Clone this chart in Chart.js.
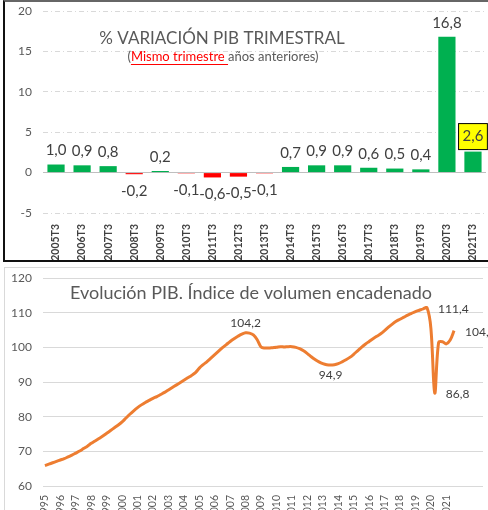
<!DOCTYPE html>
<html lang="es">
<head>
<meta charset="utf-8">
<title>PIB</title>
<script src="https://cdn.jsdelivr.net/npm/chart.js@4.4.1/dist/chart.umd.min.js"></script>
<style>
  html, body { margin: 0; padding: 0; background: #fff; width: 488px; height: 510px; overflow: hidden; }
  .frame { position: absolute; box-sizing: border-box; }
  #frameTop { left: 3px; top: 0; width: 520px; height: 262px; border-top: 2px solid #666; border-left: 2px solid #111; border-bottom: 2px solid #111; }
  #frameBottom { left: 4px; top: 267px; width: 520px; height: 300px; border-top: 1px solid #d9d9d9; border-left: 1px solid #d9d9d9; }
  canvas { position: absolute; left: 0; top: 0; }
</style>
</head>
<body>
<div class="frame" id="frameTop"><canvas id="varChart" width="495" height="258"></canvas></div>
<div class="frame" id="frameBottom"><canvas id="pibChart" width="495" height="270"></canvas></div>
<script>
  // --- datos: variacion trimestral (T3 de cada año)
  const varLabels = ['2005T3', '2006T3', '2007T3', '2008T3', '2009T3', '2010T3', '2011T3', '2012T3', '2013T3',
                     '2014T3', '2015T3', '2016T3', '2017T3', '2018T3', '2019T3', '2020T3', '2021T3'];
  const varValues = [1.0, 0.9, 0.8, -0.2, 0.2, -0.1, -0.6, -0.5, -0.1, 0.7, 0.9, 0.9, 0.6, 0.5, 0.4, 16.8, 2.6];
  const varTicks = [-5, 0, 5, 10, 15, 20];

  // --- datos: indice de volumen encadenado (trimestral, 1995T1 - 2021T3)
  const years = ['1995', '1996', '1997', '1998', '1999', '2000', '2001', '2002', '2003', '2004', '2005', '2006', '2007',
                 '2008', '2009', '2010', '2011', '2012', '2013', '2014', '2015', '2016', '2017', '2018', '2019', '2020', '2021'];
  const pibValues = [
    65.9, 66.3, 66.7, 67.1,   67.5, 67.9, 68.4, 68.9,   69.5, 70.1, 70.8, 71.5,   72.3, 73.0, 73.7, 74.4,
    75.2, 76.0, 76.8, 77.6,   78.5, 79.6, 80.7, 81.7,   82.6, 83.4, 84.1, 84.7,   85.3, 85.8, 86.4, 87.0,
    87.7, 88.4, 89.1, 89.8,   90.5, 91.2, 91.9, 92.7,   94.0, 95.0, 95.9, 96.9,   97.9, 98.9, 99.9, 100.8,
    101.7, 102.5, 103.2, 103.8, 104.2, 104.1, 103.6, 102.2, 100.1, 99.8, 99.8, 99.9, 100.0, 100.2, 100.1, 100.2,
    100.2, 100.0, 99.6, 99.0,  98.2, 97.3, 96.5, 95.8,   95.3, 95.0, 94.9, 95.0,   95.3, 95.8, 96.4, 97.1,
    98.0, 99.0, 100.0, 100.9, 101.7, 102.5, 103.2, 103.9, 104.8, 105.8, 106.7, 107.5, 108.1, 108.7, 109.3, 109.8,
    110.3, 110.7, 111.1, 111.4, 105.5, 86.8, 101.4, 101.6, 101.0, 102.1, 104.8
  ];
  const pibTicks = [60, 70, 80, 90, 100, 110, 120];
  const pibLabelIdx = [52, 74, 99, 101, 106];   // puntos con etiqueta
  const emptyQuarters = 7;                      // huecos al final del eje

  Chart.defaults.font.family = 'Lato, "Open Sans", sans-serif';
  Chart.defaults.animation = false;

  const fmt = v => v.toFixed(1).replace('.', ',');
  // quitar el margen extra que chart.js mete arriba/abajo del eje y
  const noPad = s => { s.paddingTop = 0; s.paddingBottom = 0; };

  // ===== grafico 1: barras =====
  const varTitle = {
    id: 'varTitle',
    afterDraw(chart) {
      const c = chart.ctx;
      c.save();
      c.textBaseline = 'middle';
      c.textAlign = 'center';
      c.fillStyle = '#595959';
      c.font = '17px Lato';
      c.fillText('% VARIACIÓN PIB TRIMESTRAL', 217, 37);

      // subtitulo en tres trozos
      c.font = '13px Lato';
      c.textAlign = 'left';
      const parts = [['(', '#595959'], ['Mismo trimestre ', '#ff0000'], ['años anteriores)', '#595959']];
      const total = parts.reduce((s, p) => s + c.measureText(p[0]).width, 0);
      let x = 218 - total / 2;
      parts.forEach((p, i) => {
        const w = c.measureText(p[0]).width;
        c.fillStyle = p[1];
        c.fillText(p[0], x, 55);
        if (i === 1) {
          c.strokeStyle = '#ff0000';
          c.lineWidth = 1;
          c.beginPath();
          c.moveTo(x, 62.5);
          c.lineTo(x + w, 62.5);
          c.stroke();
        }
        x += w;
      });
      c.restore();
    }
  };

  const barLabels = {
    id: 'barLabels',
    afterDatasetsDraw(chart) {
      const c = chart.ctx;
      const meta = chart.getDatasetMeta(0);
      c.save();
      c.font = '15px Lato';
      c.textAlign = 'center';
      c.textBaseline = 'middle';
      meta.data.forEach((bar, i) => {
        const v = varValues[i];
        const txt = fmt(v);
        let y = v >= 0 ? bar.y - 14 : bar.y + 17;
        if (i === varValues.length - 1) {
          y = bar.y - 15;
          const w = c.measureText(txt).width + 8;
          c.fillStyle = '#ffff00';
          c.fillRect(bar.x - w / 2, y - 13, w, 26);
          c.strokeStyle = '#000';
          c.lineWidth = 1;
          c.strokeRect(bar.x - w / 2, y - 13, w, 26);
        }
        c.fillStyle = '#404040';
        c.fillText(txt, bar.x, y);
      });
      c.restore();
    }
  };

  new Chart(document.getElementById('varChart'), {
    type: 'bar',
    data: {
      labels: varLabels,
      datasets: [{
        data: varValues,
        backgroundColor: varValues.map(v => v >= 0 ? '#00b050' : '#ff0000'),
        barPercentage: 0.66,
        categoryPercentage: 1
      }]
    },
    options: {
      responsive: false,
      layout: { padding: { top: 9, right: 14, left: 0, bottom: 0 } },
      plugins: { legend: { display: false }, tooltip: { enabled: false } },
      scales: {
        x: {
          grid: { display: false },
          border: { display: false },
          ticks: { autoSkip: false, minRotation: 90, maxRotation: 90, padding: 3, color: '#404040',
                   font: { size: 10.5, weight: 'bold' } },
          afterFit(s) { s.height = 47; }
        },
        y: {
          min: -5, max: 20,
          afterBuildTicks(s) { s.ticks = varTicks.map(v => ({ value: v })); },
          ticks: { padding: 11, color: '#595959', font: { size: 12 } },
          grid: {
            drawTicks: false,
            color: ctx => ctx.tick && ctx.tick.value === 0 ? '#bfbfbf' : '#d9d9d9'
          },
          border: { display: false, dash: ctx => ctx.tick && ctx.tick.value === 0 ? [] : [5, 3, 1, 3] },
          afterFit(s) { s.width = 38; noPad(s); }
        }
      }
    },
    plugins: [varTitle, barLabels]
  });

  // ===== grafico 2: linea =====
  const quarterLabels = [];
  years.forEach(y => { for (let q = 1; q <= 4; q++) quarterLabels.push(y + 'T' + q); });
  quarterLabels.length = pibValues.length;
  for (let i = 0; i < emptyQuarters; i++) quarterLabels.push('');

  const pibTitle = {
    id: 'pibTitle',
    afterDraw(chart) {
      const c = chart.ctx;
      c.save();
      c.fillStyle = '#595959';
      c.font = '18px Lato';
      c.textAlign = 'center';
      c.textBaseline = 'middle';
      c.fillText('Evolución PIB. Índice de volumen encadenado', 246, 25);
      c.restore();
    }
  };

  const lineLabels = {
    id: 'lineLabels',
    afterDatasetsDraw(chart) {
      const c = chart.ctx;
      const pts = chart.getDatasetMeta(0).data;
      const place = ['above', 'below', 'right', 'right', 'right'];
      c.save();
      c.font = '12px Lato';
      c.fillStyle = '#404040';
      c.textBaseline = 'middle';
      pibLabelIdx.forEach((idx, k) => {
        const p = pts[idx];
        const txt = fmt(pibValues[idx]);
        if (place[k] === 'above') { c.textAlign = 'center'; c.fillText(txt, p.x, p.y - 10); }
        else if (place[k] === 'below') { c.textAlign = 'center'; c.fillText(txt, p.x, p.y + 10); }
        else { c.textAlign = 'left'; c.fillText(txt, p.x + 11, p.y + 1); }
      });
      c.restore();
    }
  };

  new Chart(document.getElementById('pibChart'), {
    type: 'line',
    data: {
      labels: quarterLabels,
      datasets: [{
        data: pibValues,
        borderColor: '#ed7d31',
        borderWidth: 3,
        pointRadius: 0,
        tension: 0.35,
        fill: false
      }]
    },
    options: {
      responsive: false,
      layout: { padding: { top: 10, right: 17, left: 0, bottom: 0 } },
      plugins: { legend: { display: false }, tooltip: { enabled: false } },
      scales: {
        x: {
          offset: true,
          grid: { display: false },
          border: { display: false },
          ticks: {
            autoSkip: false, minRotation: 90, maxRotation: 90, padding: 1, color: '#595959', font: { size: 10.5 },
            callback(val) {
              const l = this.getLabelForValue(val);
              return l.endsWith('T1') ? l.slice(0, 4) : '';
            }
          },
          afterFit(s) { s.height = 52; }
        },
        y: {
          min: 60, max: 120,
          afterBuildTicks(s) { s.ticks = pibTicks.map(v => ({ value: v })); },
          ticks: { padding: 11, color: '#595959', font: { size: 12 } },
          grid: { drawTicks: false, color: '#d9d9d9' },
          border: { display: false },
          afterFit(s) { s.width = 38; noPad(s); }
        }
      }
    },
    plugins: [pibTitle, lineLabels]
  });
</script>
</body>
</html>
